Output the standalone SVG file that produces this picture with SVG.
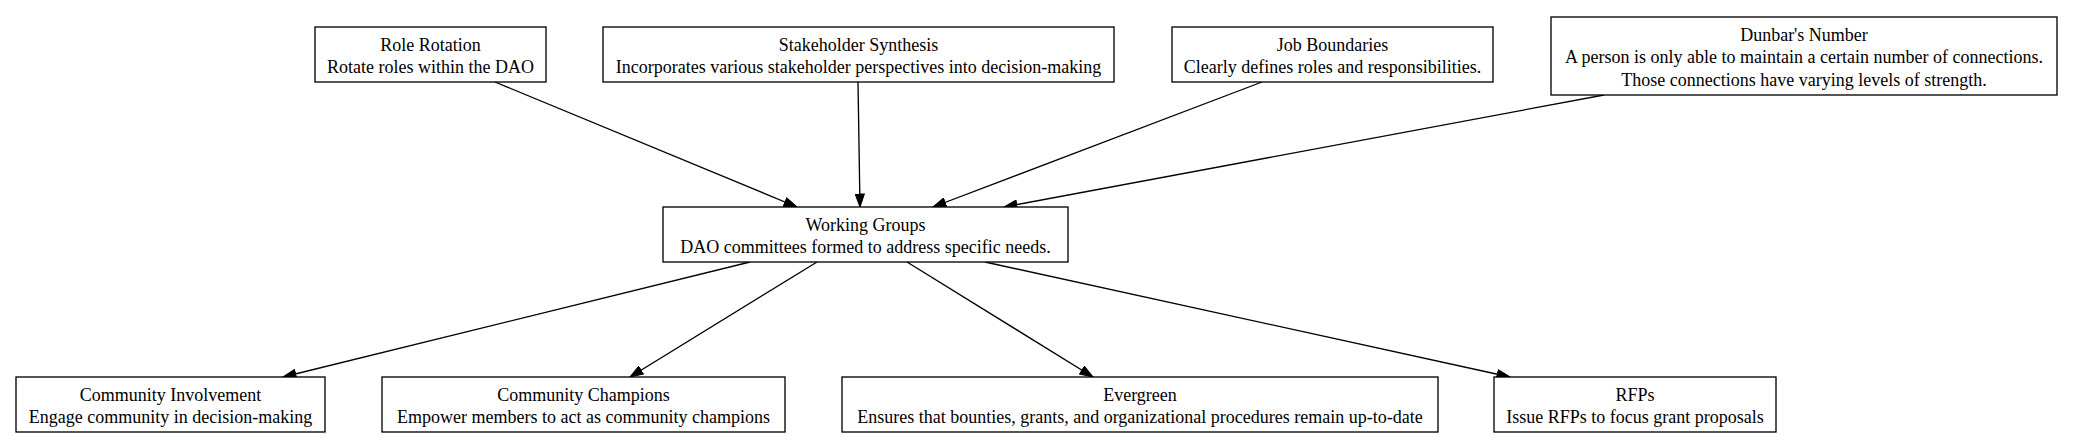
<svg xmlns="http://www.w3.org/2000/svg" width="2073" height="447" viewBox="0 0 2073 447">
<style>
  .box { fill: #ffffff; stroke: #000000; stroke-width: 1.33; }
  .t { font-family: "Liberation Serif", "Times New Roman", serif; font-size: 18px; fill: #000000; text-anchor: middle; }
  .edge { stroke: #000000; stroke-width: 1.33; fill: none; marker-end: url(#arrow); }
</style>
<defs>
  <marker id="arrow" viewBox="0 0 14 10" refX="13.5" refY="5" markerWidth="14" markerHeight="10" markerUnits="userSpaceOnUse" orient="auto">
    <path d="M0.5,0.4 L13.5,5 L0.5,9.6 Z" fill="#000000" stroke="#000000" stroke-width="1"/>
  </marker>
</defs>
<rect width="2073" height="447" fill="#ffffff"/>
<g id="connectors">
  <line class="edge" x1="495" y1="82" x2="797" y2="207"/>
  <line class="edge" x1="858" y1="82" x2="860" y2="207"/>
  <line class="edge" x1="1262" y1="82" x2="933" y2="207"/>
  <line class="edge" x1="1604" y1="95" x2="1004" y2="207"/>
  <line class="edge" x1="750" y1="262" x2="283" y2="377"/>
  <line class="edge" x1="817" y1="262" x2="630" y2="377"/>
  <line class="edge" x1="907" y1="262" x2="1093" y2="377"/>
  <line class="edge" x1="985" y1="262" x2="1510" y2="377"/>
</g>
<g id="role-rotation">
  <rect class="box" x="315" y="27" width="231" height="55"/>
  <text class="t" x="430.5" y="50.5">Role Rotation</text>
  <text class="t" x="430.5" y="73.2">Rotate roles within the DAO</text>
</g>
<g id="stakeholder-synthesis">
  <rect class="box" x="603" y="27" width="511" height="55"/>
  <text class="t" x="858.5" y="50.5">Stakeholder Synthesis</text>
  <text class="t" x="858.5" y="73.2">Incorporates various stakeholder perspectives into decision-making</text>
</g>
<g id="job-boundaries">
  <rect class="box" x="1172" y="27" width="321" height="55"/>
  <text class="t" x="1332.5" y="50.5">Job Boundaries</text>
  <text class="t" x="1332.5" y="73.2">Clearly defines roles and responsibilities.</text>
</g>
<g id="dunbars-number">
  <rect class="box" x="1551" y="17" width="506" height="78"/>
  <text class="t" x="1804" y="40.8">Dunbar's Number</text>
  <text class="t" x="1804" y="63.2">A person is only able to maintain a certain number of connections.</text>
  <text class="t" x="1804" y="85.6">Those connections have varying levels of strength.</text>
</g>
<g id="working-groups">
  <rect class="box" x="663" y="207" width="405" height="55"/>
  <text class="t" x="865.5" y="230.5">Working Groups</text>
  <text class="t" x="865.5" y="253.2">DAO committees formed to address specific needs.</text>
</g>
<g id="community-involvement">
  <rect class="box" x="16" y="377" width="309" height="55"/>
  <text class="t" x="170.5" y="400.5">Community Involvement</text>
  <text class="t" x="170.5" y="423.2">Engage community in decision-making</text>
</g>
<g id="community-champions">
  <rect class="box" x="382" y="377" width="403" height="55"/>
  <text class="t" x="583.5" y="400.5">Community Champions</text>
  <text class="t" x="583.5" y="423.2">Empower members to act as community champions</text>
</g>
<g id="evergreen">
  <rect class="box" x="842" y="377" width="596" height="55"/>
  <text class="t" x="1140" y="400.5">Evergreen</text>
  <text class="t" x="1140" y="423.2">Ensures that bounties, grants, and organizational procedures remain up-to-date</text>
</g>
<g id="rfps">
  <rect class="box" x="1494" y="377" width="282" height="55"/>
  <text class="t" x="1635" y="400.5">RFPs</text>
  <text class="t" x="1635" y="423.2">Issue RFPs to focus grant proposals</text>
</g>
</svg>
